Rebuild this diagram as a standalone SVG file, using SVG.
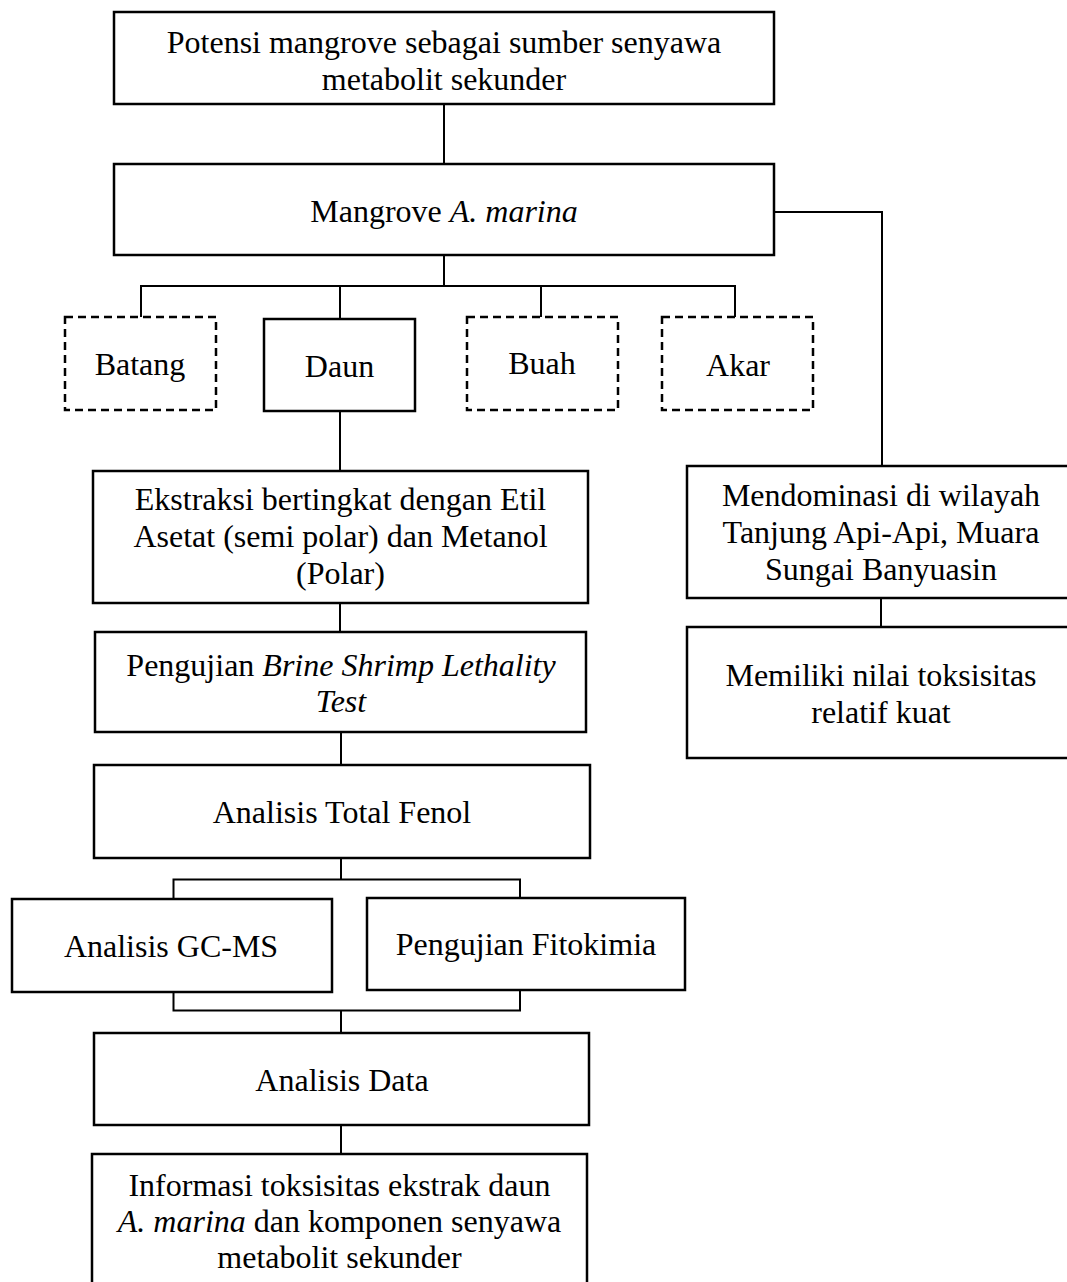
<svg xmlns="http://www.w3.org/2000/svg" width="1067" height="1282" viewBox="0 0 1067 1282">
<style>
  .box { fill: #ffffff; stroke: #000000; stroke-width: 2.5; }
  .dash { fill: #ffffff; stroke: #000000; stroke-width: 2.5; stroke-dasharray: 8 5; }
  .conn { fill: none; stroke: #000000; stroke-width: 2; }
  text { font-family: "Liberation Serif", "Times New Roman", serif; font-size: 32px; fill: #000000; text-anchor: middle; }
  .it { font-style: italic; }
</style>
<rect x="0" y="0" width="1067" height="1282" fill="#ffffff"/>
<g id="connectors">
  <path class="conn" d="M444 104 V164"/>
  <path class="conn" d="M774 212 H882 V466"/>
  <path class="conn" d="M444 255 V286"/>
  <path class="conn" d="M141 317 V286 H735 V317"/>
  <path class="conn" d="M340 286 V318"/>
  <path class="conn" d="M541 286 V317"/>
  <path class="conn" d="M340 411 V471"/>
  <path class="conn" d="M881 598 V627"/>
  <path class="conn" d="M340 603 V632"/>
  <path class="conn" d="M341 732 V765"/>
  <path class="conn" d="M341 858 V879.5"/>
  <path class="conn" d="M173.5 899 V879.5 H520 V898"/>
  <path class="conn" d="M173.5 992 V1010.5 H520 V990"/>
  <path class="conn" d="M341 1010.5 V1033"/>
  <path class="conn" d="M341 1125 V1154"/>
</g>
<g id="node-potensi">
  <rect class="box" x="114" y="12" width="660" height="92"/>
  <text x="444" y="53">Potensi mangrove sebagai sumber senyawa</text>
  <text x="444" y="90">metabolit sekunder</text>
</g>
<g id="node-mangrove">
  <rect class="box" x="114" y="164" width="660" height="91"/>
  <text x="444" y="222">Mangrove <tspan class="it">A. marina</tspan></text>
</g>
<g id="node-batang">
  <rect class="dash" x="65" y="317" width="151" height="93"/>
  <text x="140" y="375">Batang</text>
</g>
<g id="node-daun">
  <rect class="box" x="264" y="319" width="151" height="92"/>
  <text x="339.5" y="377">Daun</text>
</g>
<g id="node-buah">
  <rect class="dash" x="467" y="317" width="151" height="93"/>
  <text x="542" y="374">Buah</text>
</g>
<g id="node-akar">
  <rect class="dash" x="662" y="317" width="151" height="93"/>
  <text x="738" y="376">Akar</text>
</g>
<g id="node-ekstraksi">
  <rect class="box" x="93" y="471" width="495" height="132"/>
  <text x="340.5" y="510">Ekstraksi bertingkat dengan Etil</text>
  <text x="340.5" y="547">Asetat (semi polar) dan Metanol</text>
  <text x="340.5" y="584">(Polar)</text>
</g>
<g id="node-mendominasi">
  <rect class="box" x="687" y="466" width="385" height="132"/>
  <text x="881" y="506">Mendominasi di wilayah</text>
  <text x="881" y="543">Tanjung Api-Api, Muara</text>
  <text x="881" y="580">Sungai Banyuasin</text>
</g>
<g id="node-memiliki">
  <rect class="box" x="687" y="627" width="385" height="131"/>
  <text x="881" y="686">Memiliki nilai toksisitas</text>
  <text x="881" y="723">relatif kuat</text>
</g>
<g id="node-bslt">
  <rect class="box" x="95" y="632" width="491" height="100"/>
  <text x="341" y="676">Pengujian <tspan class="it">Brine Shrimp Lethality</tspan></text>
  <text x="341" y="712" class="it">Test</text>
</g>
<g id="node-fenol">
  <rect class="box" x="94" y="765" width="496" height="93"/>
  <text x="342" y="823">Analisis Total Fenol</text>
</g>
<g id="node-gcms">
  <rect class="box" x="12" y="899" width="320" height="93"/>
  <text x="171" y="957">Analisis GC-MS</text>
</g>
<g id="node-fitokimia">
  <rect class="box" x="367" y="898" width="318" height="92"/>
  <text x="526" y="955">Pengujian Fitokimia</text>
</g>
<g id="node-data">
  <rect class="box" x="94" y="1033" width="495" height="92"/>
  <text x="342" y="1091">Analisis Data</text>
</g>
<g id="node-informasi">
  <rect class="box" x="92" y="1154" width="495" height="140"/>
  <text x="339.5" y="1196">Informasi toksisitas ekstrak daun</text>
  <text x="339.5" y="1232"><tspan class="it">A. marina</tspan> dan komponen senyawa</text>
  <text x="339.5" y="1268">metabolit sekunder</text>
</g>
</svg>
